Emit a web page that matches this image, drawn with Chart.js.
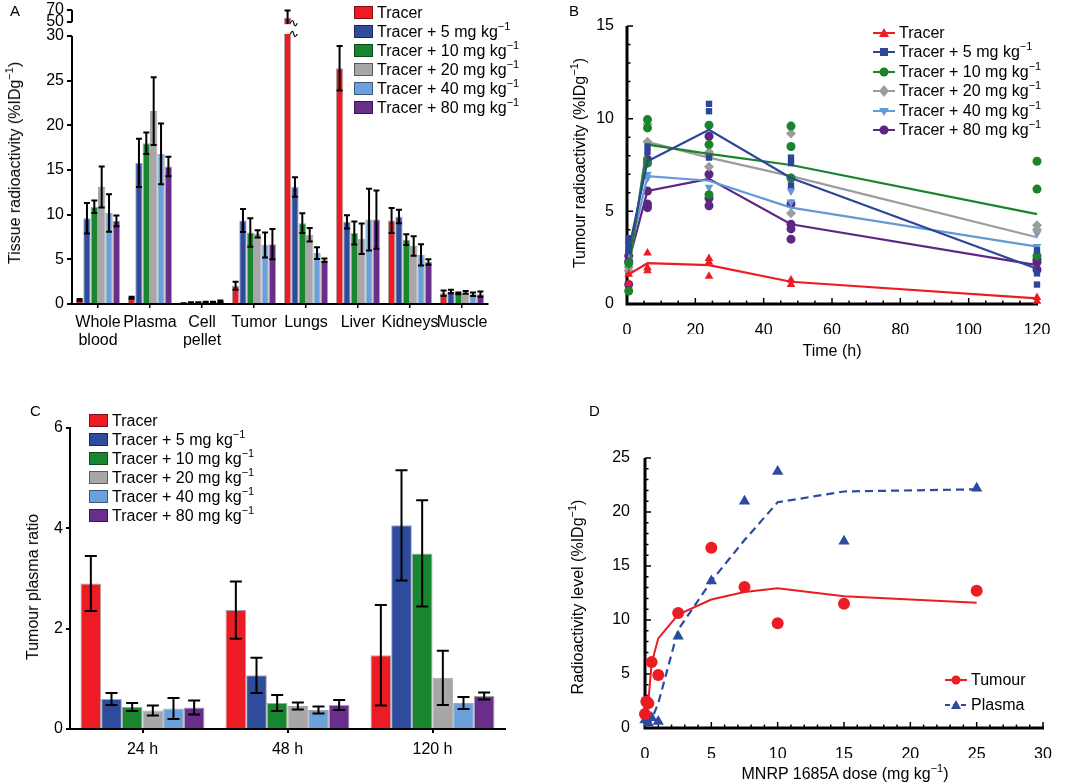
<!DOCTYPE html>
<html>
<head>
<meta charset="utf-8">
<script src="https://cdn.jsdelivr.net/npm/chart.js@4.4.1/dist/chart.umd.min.js"></script>
<style>
body{margin:0;background:#fff;font-family:'Liberation Sans',Arial,sans-serif;color:#000;}
#wrap{position:relative;width:1066px;height:783px;overflow:hidden;}
canvas{position:absolute;}
.lab{position:absolute;font-size:15px;}
.ttl{position:absolute;font-size:16px;white-space:nowrap;}
.rot{transform:translate(-50%,-50%) rotate(-90deg);}
.hz{transform:translateX(-50%);}
.leg{position:absolute;font-size:16px;white-space:nowrap;}
.leg div{height:19px;line-height:19px;}
.leg .box{display:inline-block;width:17px;height:11px;border:1px solid rgba(0,0,0,.45);vertical-align:-1px;margin-right:4px;}
.leg svg{vertical-align:-1px;margin-right:4px;}
sup{font-size:11px;line-height:0;vertical-align:7px;}
</style>
</head>
<body>
<div id="wrap">
  <canvas id="cA" width="530" height="390" style="left:0;top:0"></canvas>
  <canvas id="cB" width="536" height="390" style="left:530px;top:0"></canvas>
  <canvas id="cC" width="530" height="393" style="left:0;top:390px"></canvas>
  <canvas id="cD" width="536" height="393" style="left:530px;top:390px"></canvas>

  <div class="lab" style="left:10px;top:2px">A</div>
  <div class="lab" style="left:569px;top:2px">B</div>
  <div class="lab" style="left:30px;top:402px">C</div>
  <div class="lab" style="left:589px;top:402px">D</div>

  <div class="ttl rot" style="left:15px;top:163px">Tissue radioactivity (%IDg<sup>−1</sup>)</div>
  <div class="ttl rot" style="left:580px;top:163px">Tumour radioactivity (%IDg<sup>−1</sup>)</div>
  <div class="ttl hz" style="left:832px;top:342px">Time (h)</div>
  <div class="ttl rot" style="left:33px;top:587px">Tumour plasma ratio</div>
  <div class="ttl rot" style="left:578px;top:597px">Radioactivity level (%IDg<sup>−1</sup>)</div>
  <div class="ttl hz" style="left:845px;top:765px">MNRP 1685A dose (mg kg<sup>−1</sup>)</div>

  <div class="leg" id="legA" style="left:354px;top:3px"></div>
  <div class="leg" id="legB" style="left:873px;top:23px"></div>
  <div class="leg" id="legC" style="left:89px;top:411px"></div>
  <div class="leg" id="legD" style="left:945px;top:667px"></div>
</div>
<script>
// ---- shared ----
const seriesNames = ['Tracer', 'Tracer + 5 mg kg', 'Tracer + 10 mg kg', 'Tracer + 20 mg kg', 'Tracer + 40 mg kg', 'Tracer + 80 mg kg'];
const barColors = ['#ed1c24', '#2f4b9c', '#18862f', '#a7a7a7', '#6ca0da', '#692d8c'];
const lineColors = ['#ec1c24', '#2d4798', '#1a832c', '#9c9c9c', '#639ad6', '#5e2585'];
const pointStyles = ['triangle', 'rect', 'circle', 'rectRot', 'triangle', 'circle'];
const pointRot = [0, 0, 0, 0, 180, 0];

// ---- A: tissue radioactivity ----
const tissues = [['Whole', 'blood'], 'Plasma', ['Cell', 'pellet'], 'Tumor', 'Lungs', 'Liver', 'Kidneys', 'Muscle'];
const tissueTracer = [0.45, 0.7, 0.05, 2.05, 57, 26.4, 9.35, 1.2];
const tissue5 = [9.6, 15.8, 0.15, 9.35, 13.1, 9.2, 9.8, 1.4];
const tissue10 = [10.9, 18.0, 0.15, 8.0, 9.05, 7.95, 7.2, 1.2];
const tissue20 = [13.1, 21.6, 0.2, 7.85, 7.75, 7.3, 6.5, 1.3];
const tissue40 = [10.2, 16.8, 0.2, 6.6, 5.7, 9.45, 5.5, 1.1];
const tissue80 = [9.3, 15.4, 0.3, 6.7, 4.9, 9.45, 4.7, 1.1];
const tissueTracerErr = [0.1, 0.1, 0.03, 0.45, 12, 2.5, 1.4, 0.3];
const tissue5Err = [1.7, 2.7, 0.05, 1.3, 1.1, 0.75, 0.75, 0.2];
const tissue10Err = [0.7, 1.2, 0.05, 1.6, 1.1, 1.3, 0.6, 0.1];
const tissue20Err = [2.3, 3.8, 0.05, 0.4, 0.75, 1.7, 1.1, 0.15];
const tissue40Err = [2.1, 3.4, 0.05, 1.4, 0.65, 3.45, 1.2, 0.2];
const tissue80Err = [0.6, 1.1, 0.1, 1.7, 0.2, 3.25, 0.3, 0.3];
const yTicksA = [0, 5, 10, 15, 20, 25, 30, 50, 70];

// ---- B: tumour radioactivity over time ----
const timesB = [0.5, 6, 24, 48, 120];
const meanTracer = [1.6, 2.2, 2.1, 1.2, 0.3];
const mean5 = [2.9, 7.7, 9.4, 6.8, 1.9];
const mean10 = [1.9, 8.6, 8.1, 7.5, 4.85];
const mean20 = [1.9, 8.75, 7.9, 6.9, 3.6];
const mean40 = [2.5, 6.9, 6.65, 5.2, 3.1];
const mean80 = [2.3, 6.1, 6.75, 4.3, 2.1];
const ptsTracer = [[1.6, 1.1], [2.75, 1.95, 1.8], [2.45, 2.25, 1.5], [1.3, 1.05], [0.35, 0.15]];
const pts5 = [[3.55, 3.2, 2.85], [8.5, 8.2], [10.8, 10.4, 7.9], [7.9, 7.6, 6.4], [2.9, 1.65, 1.05]];
const pts10 = [[2.2, 0.7], [9.95, 9.5, 7.6], [9.65, 8.6, 5.9], [9.6, 8.5, 6.8], [7.7, 6.2, 2.6]];
const pts20 = [[2.0, 1.8], [9.7, 8.75], [8.2, 8.0, 7.4], [9.2, 6.8, 4.9], [4.25, 4.0]];
const pts40 = [[3.2, 1.7], [7.0, 6.8], [8.5, 6.3], [6.1, 5.5], [3.8, 3.1]];
const pts80 = [[2.6, 2.3, 1.05], [7.8, 6.1, 5.4, 5.2], [9.05, 7.0, 5.7, 5.3], [5.4, 4.3, 4.05, 3.5], [2.4, 2.25, 1.85]];

// ---- C: tumour/plasma ratio ----
const timesC = ['24 h', '48 h', '120 h'];
const ratioTracer = [2.9, 2.37, 1.47];
const ratio5 = [0.6, 1.07, 4.06];
const ratio10 = [0.44, 0.52, 3.5];
const ratio20 = [0.37, 0.46, 1.02];
const ratio40 = [0.41, 0.38, 0.52];
const ratio80 = [0.43, 0.48, 0.66];
const ratioTracerErr = [0.55, 0.57, 1.0];
const ratio5Err = [0.12, 0.35, 1.1];
const ratio10Err = [0.08, 0.16, 1.06];
const ratio20Err = [0.1, 0.07, 0.54];
const ratio40Err = [0.21, 0.07, 0.12];
const ratio80Err = [0.14, 0.1, 0.07];

// ---- D: dose response ----
const tumourDoses = [0, 0.1, 0.25, 0.5, 1, 2.5, 5, 7.5, 10, 15, 25];
const tumourLevel = [1.3, 2.45, 2.3, 6.1, 4.9, 10.65, 16.7, 13.05, 9.7, 11.5, 12.7];
const plasmaDoses = [0, 0.25, 0.5, 1, 2.5, 5, 7.5, 10, 15, 25];
const plasmaLevel = [0.75, 0.45, 0.95, 0.6, 8.5, 13.6, 21.0, 23.75, 17.3, 22.2];
const tumourFitDoses = [0, 0.25, 0.5, 1, 2.5, 5, 7.5, 10, 15, 25];
const tumourFit = [1.3, 2.4, 6.0, 8.3, 10.5, 11.9, 12.6, 12.95, 12.2, 11.6];
const plasmaFitDoses = [0.25, 0.5, 1, 2.5, 5, 7.5, 10, 15, 25];
const plasmaFit = [0.2, 0.8, 2.3, 9.1, 13.6, 17.4, 20.9, 21.9, 22.1];

Chart.defaults.font.family = "'Liberation Sans', Arial, sans-serif";
Chart.defaults.font.size = 16;
Chart.defaults.color = '#000';
Chart.defaults.animation = false;
Chart.defaults.plugins.legend.display = false;
Chart.defaults.plugins.tooltip.enabled = false;

// y scale with a break between 30 and 50 (panel A)
function brk(v){
  if (v <= 30) return v;
  if (v <= 50) return 30 + (v - 30) / 20 * 1.57;
  return 31.57 + (v - 50) * 0.0675;
}
class BrokenScale extends Chart.LinearScale {
  getPixelForValue(v){
    if (v === null || v === undefined || isNaN(v)) return NaN;
    return this.getPixelForDecimal(brk(v) / brk(this.max));
  }
  getValueForPixel(p){
    return this.getDecimalForPixel(p) * brk(this.max);
  }
}
BrokenScale.id = 'broken';
BrokenScale.defaults = Chart.LinearScale.defaults;
Chart.register(BrokenScale);

const errBars = {
  id: 'errBars',
  afterDatasetsDraw(chart, args, o){
    const ctx = chart.ctx, ys = chart.scales.y;
    ctx.save();
    ctx.strokeStyle = '#000';
    ctx.lineWidth = o.width;
    chart.data.datasets.forEach((ds, i) => {
      chart.getDatasetMeta(i).data.forEach((bar, j) => {
        const v = ds.data[j], e = ds.errors[j];
        const top = ys.getPixelForValue(v + e), bot = ys.getPixelForValue(Math.max(v - e, 0));
        ctx.beginPath();
        ctx.moveTo(bar.x, top); ctx.lineTo(bar.x, bot);
        ctx.moveTo(bar.x - o.cap, top); ctx.lineTo(bar.x + o.cap, top);
        ctx.moveTo(bar.x - o.cap, bot); ctx.lineTo(bar.x + o.cap, bot);
        ctx.stroke();
      });
    });
    ctx.restore();
  }
};

function squiggle(ctx, x, y){
  ctx.beginPath();
  ctx.moveTo(x, y);
  ctx.bezierCurveTo(x + 2, y - 4, x + 3, y - 3, x + 3.5, y);
  ctx.bezierCurveTo(x + 4, y + 3, x + 5, y + 4, x + 7, y);
  ctx.stroke();
}

const breakMarks = {
  id: 'breakMarks',
  afterDraw(chart){
    const ctx = chart.ctx, a = chart.chartArea, y = chart.scales.y;
    const bar = chart.getDatasetMeta(0).data[tissues.indexOf('Lungs')];
    const gTop = y.getPixelForValue(47), gBot = y.getPixelForValue(33);
    ctx.save();
    ctx.fillStyle = '#fff';
    ctx.fillRect(bar.x - bar.width / 2 - 1, gTop, bar.width + 2, gBot - gTop);
    ctx.strokeStyle = '#000';
    ctx.lineWidth = 1.2;
    squiggle(ctx, bar.x + bar.width / 2 - 1, gTop - 1);
    squiggle(ctx, bar.x + bar.width / 2 - 1, gBot);
    ctx.lineWidth = 2;
    ctx.beginPath();
    ctx.moveTo(a.left, y.getPixelForValue(0) + 1); ctx.lineTo(a.left, y.getPixelForValue(30));
    ctx.moveTo(a.left, y.getPixelForValue(50)); ctx.lineTo(a.left, y.getPixelForValue(70));
    ctx.stroke();
    ctx.restore();
  }
};

const innerAxes = {
  id: 'innerAxes',
  beforeDatasetsDraw(chart, args, o){
    const ctx = chart.ctx, a = chart.chartArea, x = chart.scales.x, y = chart.scales.y;
    ctx.save();
    ctx.strokeStyle = '#000';
    ctx.lineWidth = 1.5;
    ctx.beginPath();
    for (let v = x.min; v <= x.max + 1e-9; v += o.xMinor){
      const px = x.getPixelForValue(v);
      const len = Math.abs(v % o.xMajor) < 1e-9 ? 6 : 3.5;
      ctx.moveTo(px, a.bottom); ctx.lineTo(px, a.bottom - len);
    }
    for (let v = y.min; v <= y.max + 1e-9; v += o.yMinor){
      const py = y.getPixelForValue(v);
      const len = Math.abs(v % o.yMajor) < 1e-9 ? 6 : 3.5;
      ctx.moveTo(a.left, py); ctx.lineTo(a.left + len, py);
    }
    ctx.stroke();
    ctx.lineWidth = 3;
    ctx.beginPath();
    ctx.moveTo(a.left, a.top); ctx.lineTo(a.left, a.bottom); ctx.lineTo(a.right + 1, a.bottom);
    ctx.stroke();
    ctx.restore();
  }
};

const axisX = (h) => (s) => { s.height = h; s.paddingLeft = 0; s.paddingRight = 0; };
const axisY = (w) => (s) => { s.width = w; s.paddingTop = 0; s.paddingBottom = 0; };

// ---------- A ----------
const tissueVals = [tissueTracer, tissue5, tissue10, tissue20, tissue40, tissue80];
const tissueErrs = [tissueTracerErr, tissue5Err, tissue10Err, tissue20Err, tissue40Err, tissue80Err];
new Chart(document.getElementById('cA'), {
  type: 'bar',
  data: {
    labels: tissues,
    datasets: seriesNames.map((n, i) => ({
      label: n, data: tissueVals[i], errors: tissueErrs[i],
      backgroundColor: barColors[i], borderColor: 'rgba(0,0,0,0.35)', borderWidth: 1,
      categoryPercentage: 0.85, barPercentage: 1
    }))
  },
  options: {
    responsive: false,
    layout: {padding: {top: 10, right: 42, bottom: 26, left: 0}},
    plugins: {errBars: {cap: 3, width: 2}},
    scales: {
      x: {
        grid: {drawOnChartArea: false, offset: false, tickLength: 4, color: '#000', lineWidth: 1.5},
        border: {color: '#000', width: 2},
        ticks: {padding: 5, maxRotation: 0, minRotation: 0, autoSkip: false, font: {size: 16, lineHeight: 1.15}},
        afterFit: axisX(60)
      },
      y: {
        type: 'broken', min: 0, max: 70,
        grid: {drawOnChartArea: false, tickLength: 5, color: '#000', lineWidth: 2},
        border: {display: false},
        ticks: {padding: 3, autoSkip: false},
        afterBuildTicks: (s) => { s.ticks = yTicksA.map(v => ({value: v})); },
        afterFit: axisY(72)
      }
    }
  },
  plugins: [errBars, breakMarks]
});

// ---------- B ----------
const meansB = [meanTracer, mean5, mean10, mean20, mean40, mean80];
const ptsB = [ptsTracer, pts5, pts10, pts20, pts40, pts80];
const dsB = [];
seriesNames.forEach((n, i) => {
  dsB.push({
    type: 'line', label: n,
    data: timesB.map((t, k) => ({x: t, y: meansB[i][k]})),
    borderColor: lineColors[i], borderWidth: 2.2, pointRadius: 0, fill: false, clip: false
  });
  dsB.push({
    type: 'scatter', label: n + ' pts',
    data: ptsB[i].flatMap((vals, k) => vals.map(v => ({x: timesB[k], y: v}))),
    backgroundColor: lineColors[i], borderColor: lineColors[i], borderWidth: 0,
    pointStyle: pointStyles[i], rotation: pointRot[i],
    pointRadius: pointStyles[i] === 'triangle' || pointStyles[i] === 'rectRot' ? 5 : 4.5, clip: false
  });
});
new Chart(document.getElementById('cB'), {
  type: 'scatter',
  data: {datasets: dsB},
  options: {
    responsive: false,
    layout: {padding: {top: 26, right: 29, bottom: 56, left: 0}},
    plugins: {innerAxes: {xMinor: 5, xMajor: 20, yMinor: 1, yMajor: 5}},
    scales: {
      x: {type: 'linear', min: 0, max: 120, grid: {display: false}, border: {display: false},
          ticks: {stepSize: 20, padding: 9}, afterFit: axisX(30)},
      y: {min: 0, max: 15, grid: {display: false}, border: {display: false},
          ticks: {stepSize: 5, padding: 5}, afterFit: axisY(97)}
    }
  },
  plugins: [innerAxes]
});

// ---------- C ----------
const ratioVals = [ratioTracer, ratio5, ratio10, ratio20, ratio40, ratio80];
const ratioErrs = [ratioTracerErr, ratio5Err, ratio10Err, ratio20Err, ratio40Err, ratio80Err];
new Chart(document.getElementById('cC'), {
  type: 'bar',
  data: {
    labels: timesC,
    datasets: seriesNames.map((n, i) => ({
      label: n, data: ratioVals[i], errors: ratioErrs[i],
      backgroundColor: barColors[i], borderColor: 'rgba(0,0,0,0.35)', borderWidth: 1,
      categoryPercentage: 0.855, barPercentage: 1
    }))
  },
  options: {
    responsive: false,
    layout: {padding: {top: 38, right: 25, bottom: 24, left: 0}},
    plugins: {errBars: {cap: 6, width: 2}},
    scales: {
      x: {
        grid: {drawOnChartArea: false, offset: false, tickLength: 4, color: '#000', lineWidth: 2},
        border: {color: '#000', width: 2},
        ticks: {padding: 7},
        afterFit: axisX(30)
      },
      y: {
        min: 0, max: 6,
        grid: {drawOnChartArea: false, tickLength: 4, color: '#000', lineWidth: 2},
        border: {color: '#000', width: 2},
        ticks: {stepSize: 2, padding: 3},
        afterFit: axisY(70)
      }
    }
  },
  plugins: [errBars]
});

// ---------- D ----------
const redD = '#ec1c24', blueD = '#2c4a9e';
new Chart(document.getElementById('cD'), {
  type: 'scatter',
  data: {
    datasets: [
      {type: 'line', label: 'Tumour fit', data: tumourFitDoses.map((d, k) => ({x: d, y: tumourFit[k]})),
       borderColor: redD, borderWidth: 2, pointRadius: 0, clip: false},
      {type: 'line', label: 'Plasma fit', data: plasmaFitDoses.map((d, k) => ({x: d, y: plasmaFit[k]})),
       borderColor: blueD, borderWidth: 2.2, borderDash: [8, 5], pointRadius: 0, clip: false},
      {label: 'Tumour', data: tumourDoses.map((d, k) => ({x: d, y: tumourLevel[k]})),
       backgroundColor: redD, borderWidth: 0, pointStyle: 'circle', pointRadius: 6, clip: false},
      {label: 'Plasma', data: plasmaDoses.map((d, k) => ({x: d, y: plasmaLevel[k]})),
       backgroundColor: blueD, borderWidth: 0, pointStyle: 'triangle', pointRadius: 6.5, clip: false}
    ]
  },
  options: {
    responsive: false,
    layout: {padding: {top: 68, right: 23, bottom: 25, left: 0}},
    plugins: {innerAxes: {xMinor: 1, xMajor: 5, yMinor: 1, yMajor: 5}},
    scales: {
      x: {type: 'linear', min: 0, max: 30, grid: {display: false}, border: {display: false},
          ticks: {stepSize: 5, padding: 9}, afterFit: axisX(30)},
      y: {min: 0, max: 25, grid: {display: false}, border: {display: false},
          ticks: {stepSize: 5, padding: 7}, afterFit: axisY(115)}
    }
  },
  plugins: [innerAxes]
});

// ---------- legends ----------
function label(n, i){ return n + (i ? '<sup>−1</sup>' : ''); }
function boxLegend(id){
  document.getElementById(id).innerHTML = seriesNames.map((n, i) =>
    `<div><span class="box" style="background:${barColors[i]}"></span>${label(n, i)}</div>`).join('');
}
function marker(style, rot, c){
  if (style === 'triangle' && rot) return `<polygon points="6,11 1,3 11,3" fill="${c}"/>`;
  if (style === 'triangle') return `<polygon points="6,1 11,10 1,10" fill="${c}"/>`;
  if (style === 'rect') return `<rect x="2" y="2" width="8" height="8" fill="${c}"/>`;
  if (style === 'rectRot') return `<polygon points="6,0 11,6 6,12 1,6" fill="${c}"/>`;
  return `<circle cx="6" cy="6" r="4.5" fill="${c}"/>`;
}
function icon(style, rot, c, dash){
  return `<svg width="22" height="12"><line x1="0" y1="6" x2="22" y2="6" stroke="${c}" stroke-width="2"${dash ? ' stroke-dasharray="5,3"' : ''}/>` +
    `<g transform="translate(5,0)">${marker(style, rot, c)}</g></svg>`;
}
boxLegend('legA');
boxLegend('legC');
document.getElementById('legB').innerHTML = seriesNames.map((n, i) =>
  `<div style="height:19.4px;line-height:19.4px">${icon(pointStyles[i], pointRot[i], lineColors[i])}${label(n, i)}</div>`).join('');
document.getElementById('legD').innerHTML =
  `<div style="height:25px;line-height:25px">${icon('circle', 0, redD)}Tumour</div>` +
  `<div style="height:25px;line-height:25px">${icon('triangle', 0, blueD, true)}Plasma</div>`;
</script>
</body>
</html>
